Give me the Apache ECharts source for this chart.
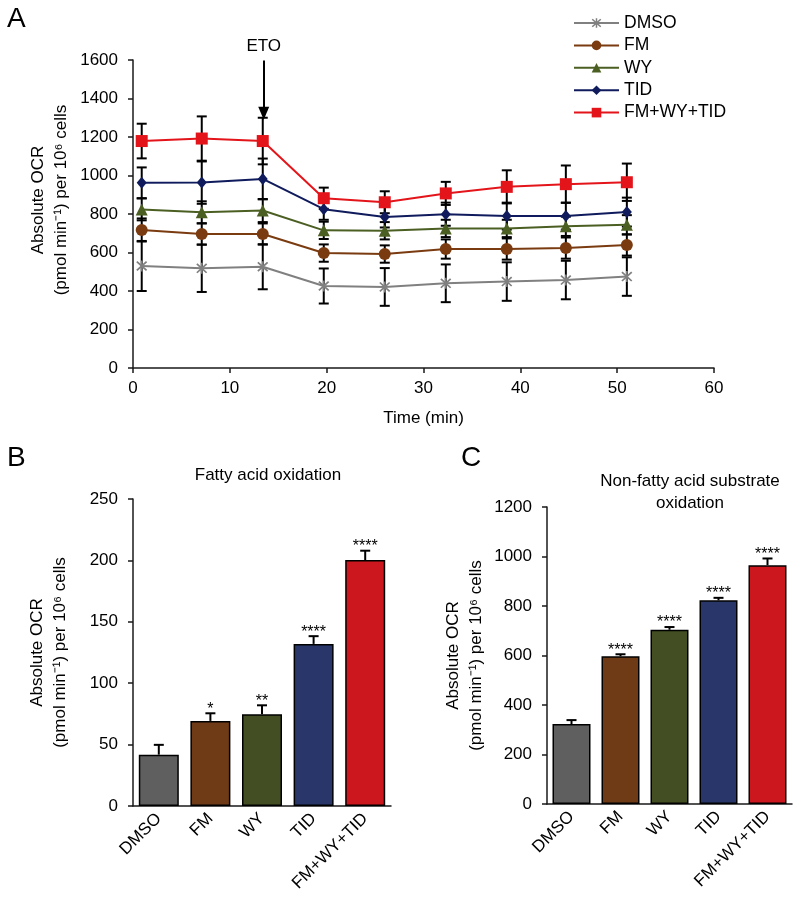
<!DOCTYPE html>
<html>
<head>
<meta charset="utf-8">
<script src="https://cdn.jsdelivr.net/npm/echarts@6/dist/echarts.min.js"></script>
<style>
  html, body { margin: 0; padding: 0; background: #fff; }
  #main { width: 800px; height: 908px; }
</style>
</head>
<body>
<div id="main"></div>
<script>
// ---- panel A: OCR time course ----
var timePoints = [0.9, 7.1, 13.4, 19.7, 26.0, 32.3, 38.6, 44.7, 51.0];
var groupNames = ['DMSO', 'FM', 'WY', 'TID', 'FM+WY+TID'];

var dmsoOcr = [530, 518, 526, 426, 421, 440, 449, 457, 475];
var dmsoErr = [130, 123, 117, 91, 98, 98, 100, 100, 100];
var fmOcr = [717, 696, 696, 597, 592, 618, 618, 623, 639];
var fmErr = [60, 55, 55, 45, 45, 50, 55, 55, 55];
var wyOcr = [824, 809, 818, 715, 713, 725, 725, 736, 744];
var wyErr = [57, 57, 60, 45, 45, 45, 45, 50, 50];
var tidOcr = [962, 963, 982, 825, 785, 799, 789, 789, 810];
var tidErr = [80, 110, 106, 55, 55, 60, 70, 70, 75];
var comboOcr = [1179, 1192, 1179, 882, 861, 907, 941, 955, 965];
var comboErr = [90, 115, 121, 55, 57, 60, 86, 97, 97];

var etoTime = 13.5;

// ---- panel B: fatty acid oxidation ----
var faoValues = [41.8, 69.3, 74.7, 132, 200.3];
var faoErr = [8, 6.2, 7.3, 6.3, 7.6];
var faoStars = ['', '*', '**', '****', '****'];

// ---- panel C: non-fatty acid substrate oxidation ----
var nonFaoValues = [323, 597, 704, 823, 965];
var nonFaoErr = [16, 8, 11, 10, 27];
var nonFaoStars = ['', '****', '****', '****', '****'];

var lineColors = ['#808080', '#7a3b10', '#4b5f23', '#0f1b5c', '#e3151b'];
var barColors = ['#5f5f5f', '#6f3a16', '#434f22', '#29366a', '#cb171d'];
var asterisk = 'path://M4.3,0H5.7V10H4.3Z M0.5,1.5L1.5,0.5L9.5,8.5L8.5,9.5Z M8.5,0.5L9.5,1.5L1.5,9.5L0.5,8.5Z';
var symbols = [asterisk, 'circle', 'triangle', 'diamond', 'rect'];
var symbolSizes = [11, 12, 12, [10, 12], 12];

var FONT = 'Liberation Sans, Arial, sans-serif';
var chart = echarts.init(document.getElementById('main'));

var ocrData = [dmsoOcr, fmOcr, wyOcr, tidOcr, comboOcr];
var ocrErr = [dmsoErr, fmErr, wyErr, tidErr, comboErr];

function lineErrorBar(params, api) {
  var x = api.value(0), y = api.value(1), e = api.value(2);
  var hi = api.coord([x, y + e]);
  var lo = api.coord([x, y - e]);
  var w = 5;
  var st = { stroke: '#000', lineWidth: 2 };
  return {
    type: 'group',
    children: [
      { type: 'line', shape: { x1: hi[0], y1: hi[1], x2: lo[0], y2: lo[1] }, style: st },
      { type: 'line', shape: { x1: hi[0] - w, y1: hi[1], x2: hi[0] + w, y2: hi[1] }, style: st },
      { type: 'line', shape: { x1: lo[0] - w, y1: lo[1], x2: lo[0] + w, y2: lo[1] }, style: st }
    ]
  };
}

// upper-only error bar plus significance stars
function barErrorBar(stars) {
  return function (params, api) {
    var i = api.value(0), v = api.value(1), e = api.value(2);
    var top = api.coord([i, v + e]);
    var base = api.coord([i, v]);
    var w = 5;
    var st = { stroke: '#000', lineWidth: 2 };
    return {
      type: 'group',
      children: [
        { type: 'line', shape: { x1: top[0], y1: top[1], x2: base[0], y2: base[1] }, style: st },
        { type: 'line', shape: { x1: top[0] - w, y1: top[1], x2: top[0] + w, y2: top[1] }, style: st },
        {
          type: 'text', x: top[0], y: top[1] + 4,
          style: { text: stars[params.dataIndex], textAlign: 'center', textVerticalAlign: 'bottom',
                   fontSize: 16, fontFamily: FONT, fill: '#000' }
        }
      ]
    };
  };
}

var series = [];
groupNames.forEach(function (name, k) {
  var pts = [], errs = [];
  for (var i = 0; i < timePoints.length; i++) {
    pts.push([timePoints[i], ocrData[k][i]]);
    errs.push([timePoints[i], ocrData[k][i], ocrErr[k][i]]);
  }
  series.push({
    name: name + ' err',
    type: 'custom',
    xAxisIndex: 0, yAxisIndex: 0,
    renderItem: lineErrorBar,
    data: errs,
    z: 1,
    silent: true
  });
  var s = {
    name: name,
    type: 'line',
    xAxisIndex: 0, yAxisIndex: 0,
    data: pts,
    symbol: symbols[k],
    symbolSize: symbolSizes[k],
    showAllSymbol: true,
    lineStyle: { color: lineColors[k], width: 2 },
    itemStyle: { color: lineColors[k] },
    z: 3
  };
  if (k === 4) {
    s.markLine = {
      silent: true,
      symbol: ['none', 'triangle'],
      symbolSize: [11, 13],
      lineStyle: { color: '#000', width: 2, type: 'solid' },
      label: { show: true, position: 'start', formatter: 'ETO', color: '#000', fontSize: 17,
               fontFamily: FONT, distance: 6 },
      data: [[{ coord: [etoTime, 1597] }, { coord: [etoTime, 1323] }]]
    };
  }
  series.push(s);
});

series.push({
  type: 'bar', xAxisIndex: 1, yAxisIndex: 1, barWidth: 40,
  data: faoValues.map(function (v, i) {
    return { value: v, itemStyle: { color: barColors[i], borderColor: '#000', borderWidth: 1.5 } };
  })
});
series.push({
  type: 'custom', xAxisIndex: 1, yAxisIndex: 1, z: 5,
  renderItem: barErrorBar(faoStars),
  data: faoValues.map(function (v, i) { return [i, v, faoErr[i]]; })
});
series.push({
  type: 'bar', xAxisIndex: 2, yAxisIndex: 2, barWidth: 38,
  data: nonFaoValues.map(function (v, i) {
    return { value: v, itemStyle: { color: barColors[i], borderColor: '#000', borderWidth: 1.5 } };
  })
});
series.push({
  type: 'custom', xAxisIndex: 2, yAxisIndex: 2, z: 5,
  renderItem: barErrorBar(nonFaoStars),
  data: nonFaoValues.map(function (v, i) { return [i, v, nonFaoErr[i]]; })
});

var axisLine = { show: true, lineStyle: { color: '#1a1a1a', width: 1.5 } };
var label = { color: '#000', fontSize: 17, fontFamily: FONT };
var yName = 'Absolute OCR\n(pmol min\u207B\u00B9) per 10\u2076 cells';

function valueAxis(grid, max, interval, gap, pad) {
  return {
    type: 'value', gridIndex: grid, min: 0, max: max, interval: interval,
    axisLine: axisLine,
    axisTick: { show: true, length: 5, lineStyle: { color: '#1a1a1a', width: 1.5 } },
    axisLabel: Object.assign({ margin: 15, formatter: function (v) { return String(v); } }, label),
    splitLine: { show: false },
    name: yName, nameLocation: 'middle', nameGap: gap, nameMoveOverlap: false,
    nameTextStyle: { color: '#000', fontSize: 17, fontFamily: FONT, lineHeight: 23, padding: pad }
  };
}
function catAxis(grid) {
  return {
    type: 'category', gridIndex: grid, data: groupNames,
    axisLine: axisLine, axisTick: { show: false },
    axisLabel: Object.assign({ rotate: 45, interval: 0, margin: 10 }, label)
  };
}

chart.setOption({
  animation: false,
  textStyle: { fontFamily: FONT },
  grid: [
    { left: 133, top: 60, width: 581, height: 308 },
    { left: 133, top: 499, width: 258, height: 307 },
    { left: 547, top: 507, width: 245, height: 297 }
  ],
  legend: {
    data: groupNames,
    orient: 'vertical', left: 573, top: 14, padding: 0,
    itemWidth: 45, itemHeight: 12, itemGap: 4.4,
    textStyle: { color: '#000', fontSize: 17.5, fontFamily: FONT }
  },
  xAxis: [
    {
      type: 'value', gridIndex: 0, min: 0, max: 60, interval: 10,
      axisLine: axisLine,
      axisTick: { show: true, length: 5, lineStyle: { color: '#1a1a1a', width: 1.5 } },
      axisLabel: Object.assign({ margin: 12 }, label),
      splitLine: { show: false },
      name: 'Time (min)', nameLocation: 'middle', nameGap: 42,
      nameTextStyle: { color: '#000', fontSize: 17, fontFamily: FONT }
    },
    catAxis(1),
    catAxis(2)
  ],
  yAxis: [
    valueAxis(0, 1600, 200, 60, [0, 0, 0, 28]),
    valueAxis(1, 250, 50, 61, 0),
    valueAxis(2, 1200, 200, 59, 0)
  ],
  graphic: [
    { type: 'text', x: 7, y: 5, style: { text: 'A', fontSize: 28, fontFamily: FONT, fill: '#000' } },
    { type: 'text', x: 7, y: 444, style: { text: 'B', fontSize: 28, fontFamily: FONT, fill: '#000' } },
    { type: 'text', x: 461, y: 444, style: { text: 'C', fontSize: 28, fontFamily: FONT, fill: '#000' } },
    { type: 'text', x: 268, y: 475, style: { text: 'Fatty acid oxidation', textAlign: 'center',
      textVerticalAlign: 'middle', fontSize: 17, fontFamily: FONT, fill: '#000' } },
    { type: 'text', x: 690, y: 492, style: { text: 'Non-fatty acid substrate\noxidation', textAlign: 'center',
      textVerticalAlign: 'middle', fontSize: 17, lineHeight: 22, fontFamily: FONT, fill: '#000' } }
  ],
  series: series
});
</script>
</body>
</html>
